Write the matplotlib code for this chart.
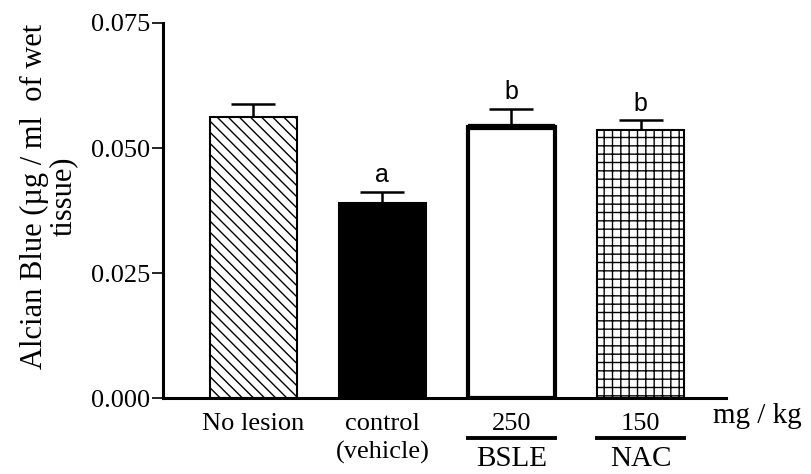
import matplotlib.pyplot as plt
import matplotlib.transforms as mtransforms
import numpy as np

plt.rcParams['font.family'] = ['Liberation Serif', 'DejaVu Serif']
plt.rcParams['hatch.linewidth'] = 1.0

groups = ['No lesion', 'control\n(vehicle)', '250', '150']
means = [0.0562, 0.0390, 0.0542, 0.0536]
errs = [0.0027, 0.0023, 0.0037, 0.0020]
letters = ['', 'a', 'b', 'b']
drug_names = ['', '', 'BSLE', 'NAC']

fig = plt.figure(figsize=(8.12, 4.74), dpi=100)
ax = fig.add_axes([0.2007, 0.160, 0.693, 0.7915])

x = np.arange(len(groups))
w = 0.67
styles = [
    dict(facecolor='white', hatch='\\\\\\', linewidth=1.5),
    dict(facecolor='black', hatch=None, linewidth=1.5),
    dict(facecolor='white', hatch=None, linewidth=3.0),
    dict(facecolor='white', hatch='++', linewidth=1.5),
]
for i in range(len(groups)):
    ax.bar(x[i], means[i], width=w, edgecolor='black', zorder=2, **styles[i])
    ax.errorbar(x[i], means[i], yerr=[[0], [errs[i]]], fmt='none', ecolor='black',
                elinewidth=1.8, capsize=16, capthick=1.8, zorder=1)
    if letters[i]:
        ax.text(x[i], means[i] + errs[i] + 0.0009, letters[i], ha='center', va='bottom',
                fontsize=18, family=['Liberation Sans', 'DejaVu Sans'])
# thicker top edge on the open BSLE bar
ax.plot([x[2] - w / 2, x[2] + w / 2], [means[2], means[2]], color='black', lw=4.5,
        solid_capstyle='butt', zorder=3)

ax.set_xlim(-0.70, 3.66)
ax.set_ylim(0, 0.075)
ax.set_yticks([0, 0.025, 0.05, 0.075])
ax.set_yticklabels(['0.000', '0.025', '0.050', '0.075'], fontsize=19)
ax.set_xticks([])
ax.tick_params(axis='y', length=8, width=1.2, pad=1)
for s in ['top', 'right']:
    ax.spines[s].set_visible(False)
ax.spines['left'].set_linewidth(2.2)
ax.spines['bottom'].set_linewidth(2.2)

trans = mtransforms.blended_transform_factory(ax.transData, ax.transAxes)
for i, g in enumerate(groups):
    lines = g.split('\n')
    ax.text(x[i], -0.069, lines[0], transform=trans, ha='center', va='center', fontsize=19)
    if len(lines) > 1:
        ax.text(x[i], -0.144, lines[1], transform=trans, ha='center', va='center', fontsize=19)
    if drug_names[i]:
        ax.plot([x[i] - w / 2, x[i] + w / 2], [-0.107, -0.107], color='black', lw=2.8,
                transform=trans, clip_on=False)
        ax.text(x[i], -0.163, drug_names[i], transform=trans, ha='center', va='center', fontsize=21)
ax.text(3.905, -0.048, 'mg / kg', transform=trans, ha='center', va='center', fontsize=21)

fig.text(0.06, 0.585, 'Alcian Blue (\u00b5g / ml  of wet\ntissue)', rotation=90,
         ha='center', va='center', multialignment='center', fontsize=22, linespacing=1.0)

fig.savefig('out.png', dpi=100)
